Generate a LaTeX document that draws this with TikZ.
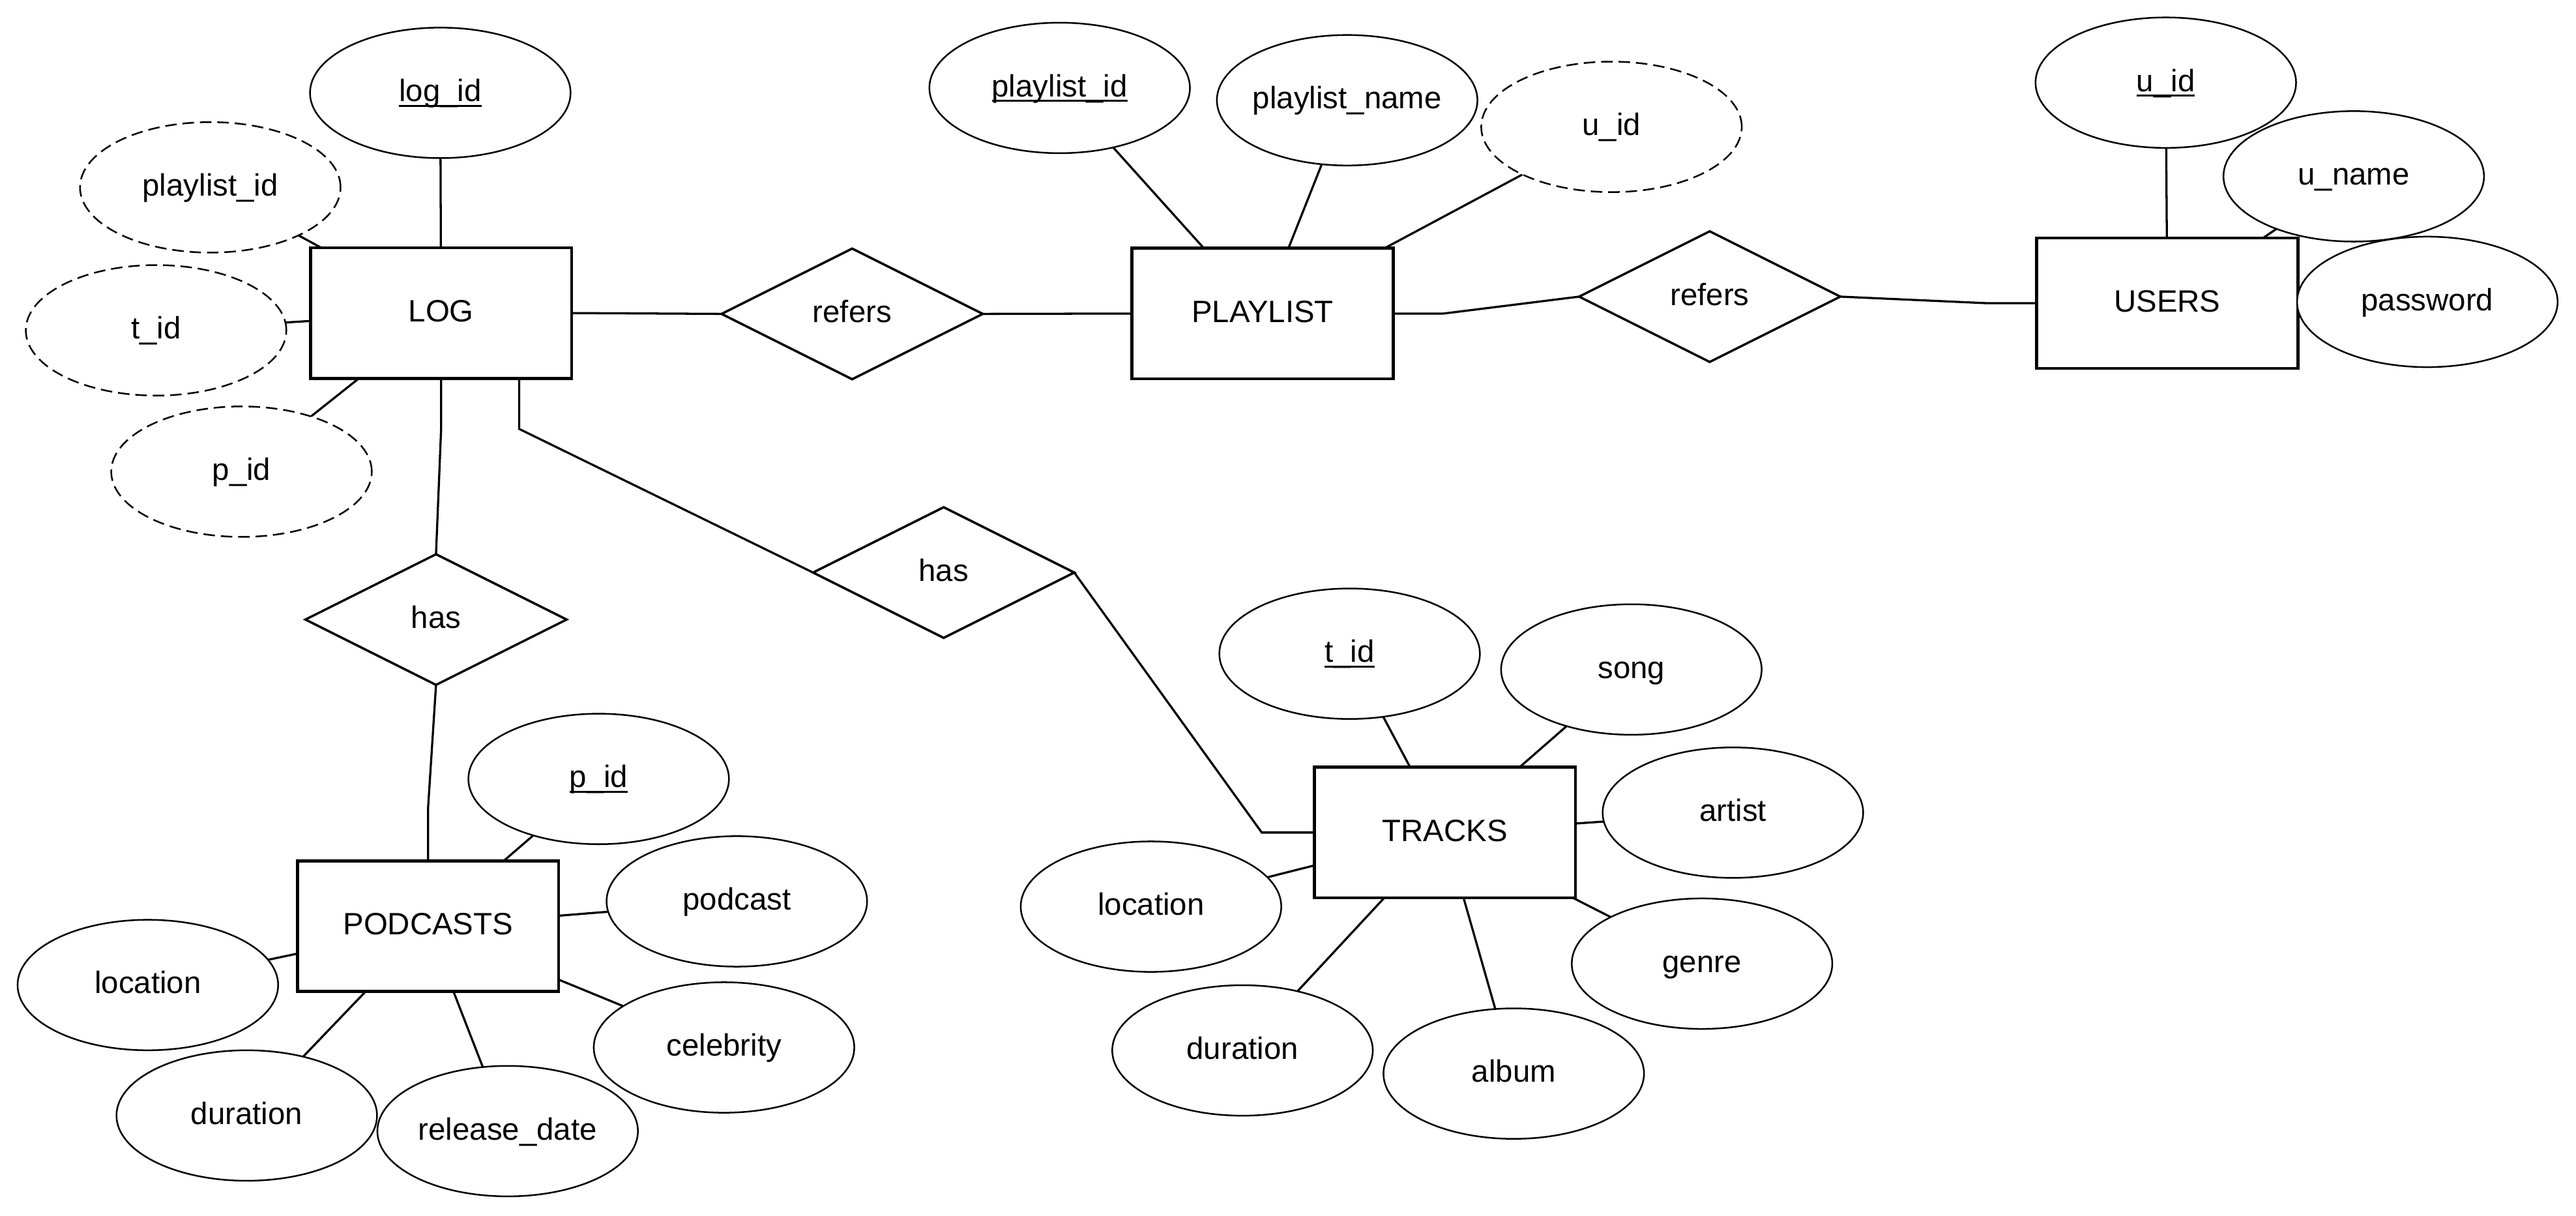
\documentclass[tikz,border=0pt]{standalone}
\usepackage{fontspec}
\setmainfont{Liberation Sans}
\usetikzlibrary{shapes.geometric,backgrounds}
\newcommand\keyattr[1]{\setbox0\hbox{#1}\rlap{\rule[-0.17em]{\wd0}{0.065em}}\box0}
\tikzset{
  base/.style={font=\fontsize{9.4pt}{11pt}\selectfont, text height=7.5pt, text depth=2.25pt,
    inner sep=0pt, outer sep=0pt, fill=white, draw=black},
  entity/.style={base, rectangle, minimum width=79.5pt, minimum height=39.75pt, line width=0.9pt},
  rel/.style={base, diamond, minimum width=79.5pt, minimum height=39.75pt, line width=0.7pt},
  attr/.style={base, ellipse, minimum width=79.3pt, minimum height=39.7pt, line width=0.5pt},
  fkattr/.style={attr, dash pattern=on 3.5pt off 1.8pt},
  conn/.style={draw=black, line width=0.65pt},
}
\begin{document}
\begin{tikzpicture}[x=0.5pt,y=-0.5pt]
\useasboundingbox (0,0) rectangle (1568,739.6);

% entities
\node[entity] (log) at (268.5,190.5) {LOG};
\node[entity] (playlist) at (768.5,190.8) {PLAYLIST};
\node[entity] (users) at (1319.2,184.5) {USERS};
\node[entity] (podcasts) at (260.6,563.6) {PODCASTS};
\node[entity] (tracks) at (879.5,506.6) {TRACKS};

% relationships
\node[rel] (refers1) at (518.7,191) {refers};
\node[rel] (refers2) at (1040.7,180.5) {refers};
\node[rel] (has1) at (265.4,377) {has};
\node[rel] (has2) at (574.4,348.4) {has};

% LOG attributes
\node[attr] (logid) at (268,56.5) {\keyattr{log\_id}};
\node[fkattr] (lplid) at (128,114) {playlist\_id};
\node[fkattr] (ltid) at (95,201) {t\_id};
\node[fkattr] (lpid) at (147,287) {p\_id};

% PLAYLIST attributes
\node[attr] (plid) at (645,53.5) {\keyattr{playlist\_id}};
\node[attr] (plname) at (820,61) {\makebox[0pt]{playlist\_name}};
\node[fkattr] (pluid) at (980.9,77.2) {u\_id};

% USERS attributes
\node[attr] (uid) at (1318.3,50.3) {\keyattr{u\_id}};
\node[attr] (uname) at (1432.7,107.3) {u\_name};
\node[attr] (upass) at (1477.5,183.7) {password};

% PODCASTS attributes
\node[attr] (pid) at (364.4,474) {\keyattr{p\_id}};
\node[attr] (ppod) at (448.5,548.5) {podcast};
\node[attr] (pceleb) at (440.7,637.4) {celebrity};
\node[attr] (pdur) at (150.2,678.8) {duration};
\node[attr] (prel) at (309,688.3) {release\_date};
\node[attr] (ploc) at (90,599.4) {location};

% TRACKS attributes
\node[attr] (tid) at (821.5,397.8) {\keyattr{t\_id}};
\node[attr] (tsong) at (993,407.4) {song};
\node[attr] (tartist) at (1054.8,494.5) {artist};
\node[attr] (tgenre) at (1036,586.4) {genre};
\node[attr] (talbum) at (921.4,653.3) {album};
\node[attr] (tdur) at (756.3,639.2) {duration};
\node[attr] (tloc) at (700.6,551.7) {location};

% bend points
\coordinate (b1) at (268.5,261);
\coordinate (b2) at (260.6,491);
\coordinate (b3) at (316,261);
\coordinate (b4) at (768,506.6);
\coordinate (b5) at (878.6,190.8);
\coordinate (b6) at (1209.5,184.5);

\begin{scope}[on background layer]
  \draw[conn] (log.south) -- (b1) -- (has1.north);
  \draw[conn] (has1.south) -- (b2) -- (podcasts.north);
  \draw[conn] (b3 |- log.south) -- (b3) -- (has2.west);
  \draw[conn] (has2.east) -- (b4) -- (tracks.west);
  \draw[conn] (log.east) -- (refers1.west);
  \draw[conn] (refers1.east) -- (playlist.west);
  \draw[conn] (playlist.east) -- (b5) -- (refers2.west);
  \draw[conn] (refers2.east) -- (b6) -- (users.west);

  \draw[conn] (logid) -- (log);
  \draw[conn] (lplid) -- (log);
  \draw[conn] (ltid) -- (log);
  \draw[conn] (lpid) -- (log);

  \draw[conn] (plid) -- (playlist);
  \draw[conn] (plname) -- (playlist);
  \draw[conn] (pluid) -- (playlist);

  \draw[conn] (uid) -- (users);
  \draw[conn] (uname) -- (users);

  \draw[conn] (pid) -- (podcasts);
  \draw[conn] (ppod) -- (podcasts);
  \draw[conn] (pceleb) -- (podcasts);
  \draw[conn] (pdur) -- (podcasts);
  \draw[conn] (prel) -- (podcasts);
  \draw[conn] (ploc) -- (podcasts);

  \draw[conn] (tid) -- (tracks);
  \draw[conn] (tsong) -- (tracks);
  \draw[conn] (tartist) -- (tracks);
  \draw[conn] (tgenre) -- (tracks);
  \draw[conn] (talbum) -- (tracks);
  \draw[conn] (tdur) -- (tracks);
  \draw[conn] (tloc) -- (tracks);
\end{scope}
\end{tikzpicture}
\end{document}
